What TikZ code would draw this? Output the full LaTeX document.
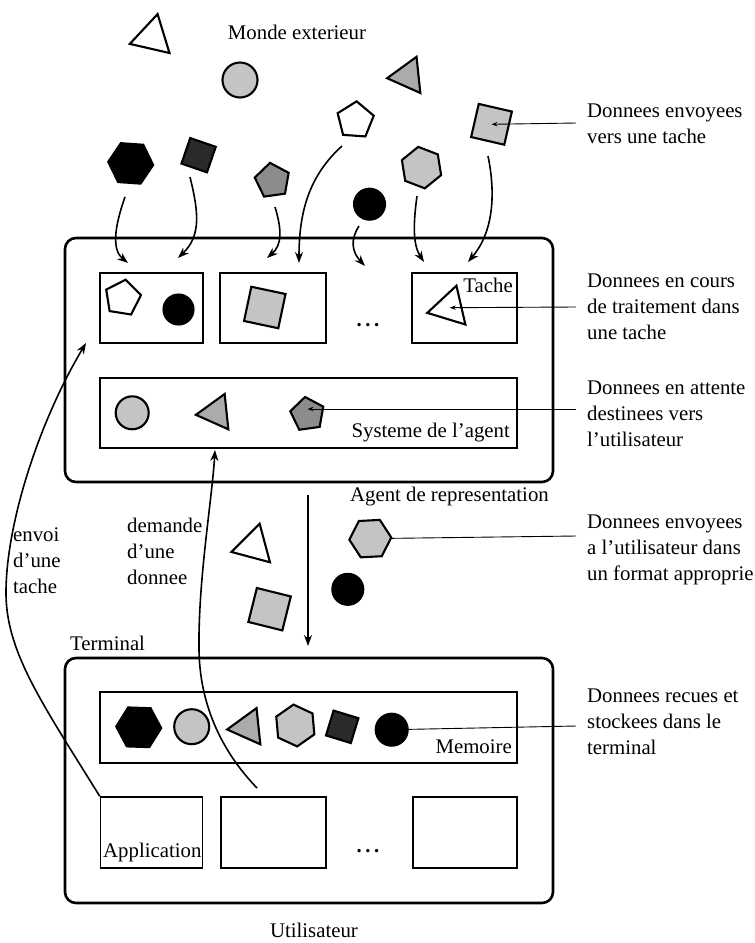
\documentclass[tikz,border=0pt]{standalone}
\usepackage{fontspec}
\setmainfont{Liberation Serif}
\usetikzlibrary{shapes.geometric,arrows.meta}
\definecolor{lgr}{HTML}{C4C4C4}
\definecolor{mgr}{HTML}{ABABAB}
\definecolor{dgr}{HTML}{8C8C8C}
\definecolor{vdk}{HTML}{2A2A2A}
\begin{document}
\begin{tikzpicture}[x=1pt,y=-1pt,
  shp/.style={draw=black, line width=2.1pt, inner sep=0pt, outer sep=0pt},
  poly/.style={shp, regular polygon, regular polygon sides=#1},
  sqr/.style={shp, rectangle, minimum size=#1},
  rnd/.style={shp, circle, minimum size=#1},
  bigbox/.style={draw=black, line width=2.6pt, rounded corners=11pt, rectangle, inner sep=0pt},
  box/.style={draw=black, line width=1.5pt, rectangle, inner sep=0pt},
  lbl/.style={inner sep=0pt, font=\fontsize{20.8pt}{26pt}\selectfont},
  flow/.style={line width=1.6pt, -{Stealth[length=11pt,width=8pt]}},
  conn/.style={line width=0.9pt},
  tipped/.style={-{Stealth[length=6pt,width=4.5pt]}}]
\useasboundingbox (0,0) rectangle (755,943);

% ---------- boxes ----------
\node[bigbox, minimum width=488pt, minimum height=244pt] (agent) at (309,360) {};
\node[bigbox, minimum width=488pt, minimum height=245pt] (term) at (309,780.5) {};
\node[box, minimum width=103pt, minimum height=70pt] (tk1) at (151.5,308) {};
\node[box, minimum width=106pt, minimum height=70pt] (tk2) at (273,308) {};
\node[box, minimum width=105pt, minimum height=70pt] (tk3) at (464.5,308) {};
\node[box, minimum width=417pt, minimum height=70pt] (sys) at (308.5,413) {};
\node[box, minimum width=417pt, minimum height=71pt] (mem) at (308.5,727.5) {};
\node[box, minimum width=102pt, minimum height=71pt] (ap1) at (151.5,832.5) {};
\node[box, minimum width=105pt, minimum height=71pt] (ap2) at (273.5,832.5) {};
\node[box, minimum width=104pt, minimum height=71pt] (ap3) at (465,832.5) {};

% ---------- labels ----------
\node[lbl] (monde) at (297,32) {Monde exterieur};
\node[lbl, anchor=east] (tache) at (513,285) {Tache};
\node[lbl, anchor=east] (syst) at (510,433) {Systeme de l’agent};
\node[lbl, anchor=east] (agentlbl) at (549,497) {Agent de representation};
\node[lbl, anchor=west] (termlbl) at (70,643) {Terminal};
\node[lbl, anchor=east] (memlbl) at (512,747) {Memoire};
\node[lbl, anchor=west] (applbl) at (103,852) {Application};
\node[lbl, anchor=base] (dots1) at (368,326) {\bfseries .\,.\,.};
\node[lbl, anchor=base] (dots2) at (368,852) {\bfseries .\,.\,.};
\node[lbl] (util) at (314,930) {Utilisateur};
\node[lbl, anchor=west, align=left] (envoi) at (13,561) {envoi\\d’une\\tache};
\node[lbl, anchor=west, align=left] (demande) at (127,551) {demande\\d’une\\donnee};
\node[lbl, anchor=west, align=left] (r1) at (587,124) {Donnees envoyees\\vers une tache};
\node[lbl, anchor=west, align=left] (r2) at (587,307) {Donnees en cours\\de traitement dans\\une tache};
\node[lbl, anchor=west, align=left] (r3) at (587,414) {Donnees en attente\\destinees vers\\l’utilisateur};
\node[lbl, anchor=west, align=left] (r4) at (587,550) {Donnees envoyees\\a l’utilisateur dans\\un format approprie};
\node[lbl, anchor=west, align=left] (r5) at (587,722) {Donnees recues et\\stockees dans le\\terminal};

% ---------- outside world shapes ----------
\node[poly=3, fill=white, minimum size=47pt, rotate=-13] (t1) at (152.3,37) {};
\node[rnd=35pt, fill=lgr] (c1) at (240,80) {};
\node[poly=3, fill=mgr, minimum size=42pt, rotate=-24] (t2) at (408,76) {};
\node[poly=5, fill=white, minimum size=38pt, rotate=-4] (p1) at (355.3,120.3) {};
\node[sqr=34pt, fill=lgr, rotate=-13] (s1) at (491.5,124.3) {};
\node[poly=6, fill=black, minimum size=45pt, rotate=-4] (h1) at (130.7,163.4) {};
\node[sqr=27pt, fill=vdk, rotate=-19] (s2) at (198.6,155.2) {};
\node[poly=5, fill=dgr, minimum size=36pt, rotate=8] (p2) at (272.5,180.7) {};
\node[rnd=31pt, fill=black] (c2) at (369.5,204.2) {};
\node[poly=6, fill=lgr, minimum size=42pt, rotate=-21] (h2) at (421.5,167.6) {};

% ---------- task shapes ----------
\node[poly=5, fill=white, minimum size=37pt, rotate=-9] (p3) at (122.7,298) {};
\node[rnd=30pt, fill=black] (c3) at (178.5,309.5) {};
\node[sqr=35pt, fill=lgr, rotate=-12] (s3) at (264.8,307.5) {};
\node[poly=3, fill=white, minimum size=46pt, rotate=-17] (t3) at (449.7,307.7) {};

% ---------- system shapes ----------
\node[rnd=33pt, fill=lgr] (c4) at (132.2,412.8) {};
\node[poly=3, fill=mgr, minimum size=41pt, rotate=-24] (t4) at (216.3,412.7) {};
\node[poly=5, fill=dgr, minimum size=35pt, rotate=8] (p4) at (307.5,414.3) {};

% ---------- shapes sent to user ----------
\node[poly=3, fill=white, minimum size=46pt, rotate=-15] (t5) at (253.7,546) {};
\node[sqr=35pt, fill=lgr, rotate=-14] (s4) at (269.6,609.2) {};
\node[poly=6, fill=lgr, minimum size=42pt, rotate=3] (h3) at (370.3,538.6) {};
\node[rnd=31pt, fill=black] (c5) at (347.8,589.3) {};

% ---------- memory shapes ----------
\node[poly=6, fill=black, minimum size=45pt, rotate=-2] (h4) at (138.7,727.3) {};
\node[rnd=35pt, fill=lgr] (c6) at (191.7,726.7) {};
\node[poly=3, fill=mgr, minimum size=42pt, rotate=-24] (t6) at (248,727.3) {};
\node[poly=6, fill=lgr, minimum size=42pt, rotate=-25] (h5) at (295.3,725.5) {};
\node[sqr=26pt, fill=vdk, rotate=-17] (s5) at (342.2,726.8) {};
\node[rnd=32pt, fill=black] (c7) at (391.7,729.7) {};

% ---------- arrows from outside world into tasks ----------
\coordinate (a1s) at (125,197); \coordinate (a1e) at (128,263);
\coordinate (a2s) at (190,177); \coordinate (a2e) at (178,258);
\coordinate (a3s) at (275,207); \coordinate (a3e) at (267,258);
\coordinate (a4s) at (342,146); \coordinate (a4e) at (299,263);
\coordinate (a5s) at (359,226); \coordinate (a5e) at (365,266);
\coordinate (a6s) at (417,196); \coordinate (a6e) at (424,262);
\coordinate (a7s) at (488,156); \coordinate (a7e) at (468,262);
\draw[flow] (a1s) .. controls (114,228) and (112,250) .. (a1e);
\draw[flow] (a2s) .. controls (198,210) and (202,235) .. (a2e);
\draw[flow] (a3s) .. controls (282,230) and (282,245) .. (a3e);
\draw[flow] (a4s) .. controls (310,175) and (299,210) .. (a4e);
\draw[flow] (a5s) .. controls (350,240) and (352,252) .. (a5e);
\draw[flow] (a6s) .. controls (413,225) and (413,245) .. (a6e);
\draw[flow] (a7s) .. controls (495,190) and (495,230) .. (a7e);

% ---------- agent to terminal ----------
\coordinate (v1) at (308,495); \coordinate (v2) at (308,646);
\draw[flow, line width=1.2pt] (v1) -- (v2);

% ---------- envoi d'une tache ----------
\coordinate (ea) at (86,343);
\draw[flow] (ap1.north west) .. controls (40,700) and (5,650) .. (6,590)
  .. controls (7,520) and (40,420) .. (ea);

% ---------- demande d'une donnee ----------
\coordinate (ds) at (257,788); \coordinate (de) at (215,450);
\draw[flow] (ds) .. controls (230,760) and (200,715) .. (199,650)
  .. controls (198,580) and (212,500) .. (de);

% ---------- label connectors ----------
\coordinate (k1) at (576,123);
\coordinate (k2) at (576,307);
\coordinate (k3) at (576,409);
\coordinate (k4) at (576,536);
\coordinate (k5) at (576,726);
\draw[conn, tipped] (k1) -- (s1.center);
\draw[conn, tipped] (k2) -- (t3.center);
\draw[conn, tipped] (k3) -- (k3 -| p4.center);
\draw[conn] (k4) -- (h3);
\draw[conn] (k5) -- (c7);
\end{tikzpicture}
\end{document}
